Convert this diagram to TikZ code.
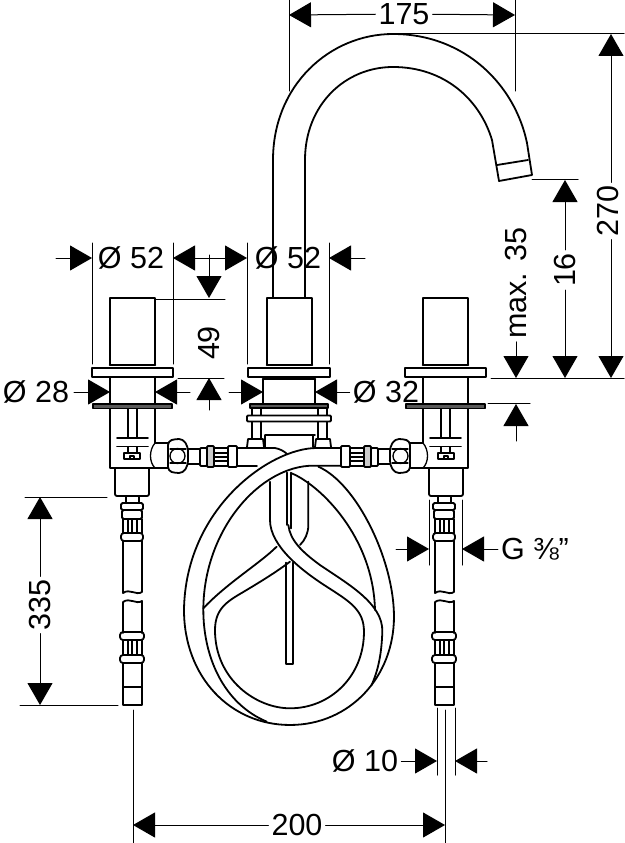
\documentclass[tikz,border=0pt]{standalone}
\usepackage{fontspec}
\setmainfont{Liberation Sans}
\usetikzlibrary{arrows.meta}
\tikzset{
 part/.style={line width=1.8pt},
 thinpart/.style={line width=1.3pt},
 dimline/.style={line width=1pt},
 dimtip/.style={dimline,-{Triangle[length=22pt,width=25pt]}},
 dimboth/.style={dimline,{Triangle[length=22pt,width=25pt]}-{Triangle[length=22pt,width=25pt]}},
 dimtext/.style={font=\fontsize{30.5}{32}\selectfont,inner sep=3pt},
}
\begin{document}
\begin{tikzpicture}[x=1pt,y=-1pt,line join=round,line cap=round]
 \useasboundingbox (0,0) rectangle (624,843);
 %spout
 \draw[part] (273,298) -- (273,160) .. controls (273,85) and (330,34) .. (393,34) .. controls (465,34) and (515,85) .. (527,143) -- (532,175) -- (499,181) -- (492,140) .. controls (480,100) and (445,67) .. (393,67) .. controls (345,67) and (305,105) .. (305,160) -- (305,298);
 \draw[part] (497,165) -- (528,160);
 %two valves, left one and its mirror image
 \foreach \sh/\mir in {0/1,578/-1}{
 \begin{scope}[xshift=\sh pt,xscale=\mir]
 \draw[part] (110,365) -- (110,298) -- (155,298) -- (155,365);
 \draw[line width=2.6pt] (110,365) -- (155,365);
 \draw[part] (92,368) rectangle (173,377);
 \draw[part] (110,377) -- (110,468) -- (155,468);
 \draw[part] (155,377) -- (155,443);
 \draw[part,fill=black!65] (93,404) rectangle (172,408.5);
 \draw[thinpart] (128,409) -- (128,438) (137,409) -- (137,438);
 \draw[part] (117,438) -- (148,438) (117,446.5) -- (148,446.5);
 \draw[thinpart] (128,447) -- (128,453) (137,447) -- (137,453);
 \draw[thinpart] (124,453) rectangle (140,459);
 \draw[thinpart] (130,459) -- (130,456) -- (134,456) -- (134,459);
 \draw[part,rounded corners=2pt] (115,469) -- (115,496) -- (149,496) -- (149,469);
 %nut on the valve
 \draw[thinpart] (155,443) .. controls (149,450) and (149,462) .. (155,468);
 \draw[part] (155,443) -- (168,443) (155,468) -- (168,468);
 \draw[part,rounded corners=4pt] (168,441) -- (175,439) -- (183,439) -- (188,447) -- (188,465) -- (183,473) -- (175,473) -- (168,471) -- cycle;
 \draw[thinpart] (177.5,456) circle (7.5);
 \draw[thinpart] (170,449) -- (186,449) (170,463) -- (186,463);
 %tube connection
 \draw[part] (188,449) -- (200,449) (188,464) -- (200,464);
 \draw[part,rounded corners=1pt] (200,448) rectangle (207,466);
 \draw[part,rounded corners=1pt,fill=black!20] (207,446) rectangle (214,467);
 \draw[part] (214,448) rectangle (228,466);
 \draw[thinpart] (214,453) -- (228,453) (214,457) -- (228,457) (214,461) -- (228,461);
 \draw[part,rounded corners=1pt] (228,446) rectangle (237,467);
 \end{scope}
 }
 %left tube ends behind the loop
 \draw[part] (237,448) -- (275,448) .. controls (280,449) and (284,451) .. (287,454);
 \draw[part] (237,466) -- (257,466);
 %middle body
 \draw[part] (267,365) -- (267,298) -- (312,298) -- (312,365);
 \draw[line width=2.6pt] (267,365) -- (312,365);
 \draw[part] (248,368) rectangle (330,377);
 \draw[line width=2.6pt] (263,379) -- (315,379);
 \draw[part] (263,379) -- (263,403) (315,379) -- (315,403);
 \draw[part,fill=black!65] (250,404) rectangle (328,408);
 \draw[part,rounded corners=1pt] (247,415.5) rectangle (331,421.5);
 \draw[thinpart] (252,408) -- (252,415) (261,408) -- (261,415) (318,408) -- (318,415) (327,408) -- (327,415);
 \draw[part] (252,422) -- (252,438) (261,422) -- (261,438) (318,422) -- (318,438) (327,422) -- (327,438);
 \draw[part] (265,435) -- (315,435) (265,435) -- (265,447) (313,435) -- (313,447);
 \draw[part] (247,447) -- (248,439) -- (263,439) -- (264,447) (315,447) -- (316,439) -- (330,439) -- (331,447);
 %hoses down to the end pieces
 \foreach \sh in {0,312}{
 \begin{scope}[xshift=\sh pt]
 \draw[part] (126,496) -- (126,503) (139,496) -- (139,503);
 \draw[part,rounded corners=1.5pt] (121,503) rectangle (143,510);
 \draw[part,rounded corners=1.5pt] (122,510) rectangle (142,519);
 \draw[part] (123,519) -- (123,533) (142,519) -- (142,533);
 \draw[thinpart] (128,519) -- (128,533) (132,519) -- (132,533) (137,519) -- (137,533);
 \draw[part,rounded corners=3pt] (121,533) rectangle (143,541);
 \draw[part] (123,541) -- (123,593) .. controls (130,588) and (136,596) .. (142,592) -- (142,541);
 \draw[part] (123,633) -- (123,602) .. controls (130,597) and (136,605) .. (142,601) -- (142,633);
 \draw[part,rounded corners=3pt] (120,632) rectangle (144,640);
 \draw[part] (123,640) -- (123,655) (142,640) -- (142,655);
 \draw[thinpart] (128,640) -- (128,655) (132,640) -- (132,655) (137,640) -- (137,655);
 \draw[part,rounded corners=3pt] (120,655) rectangle (144,663);
 \draw[part] (123,663) -- (123,687) (142,663) -- (142,687);
 \draw[part] (123,687) rectangle (142,705);
 \end{scope}
 }
 %hose loop and middle pipe
 \begin{scope}[shift={(170,450)},x=0.3333pt,y=-0.3333pt]
 \draw[part] (513,-6) -- (440,-6) .. controls (300,-6) and (46,175) .. (42,480) .. controls (42,680) and (180,825) .. (360,825) .. controls (540,825) and (672,680) .. (672,500) .. controls (672,330) and (560,100) .. (445,50);
 \draw[part] (513,47) -- (430,47) .. controls (270,47) and (100,240) .. (100,480) .. controls (100,620) and (160,760) .. (290,815);
 \draw[part] (300,95) -- (300,210) .. controls (300,290) and (400,365) .. (470,410) .. controls (540,455) and (582,480) .. (582,545) .. controls (582,680) and (480,775) .. (360,775) .. controls (260,775) and (135,690) .. (135,540) .. controls (135,470) and (180,450) .. (230,420) .. controls (280,390) and (320,365) .. (360,335);
 \draw[part] (355,225) .. controls (360,270) and (395,305) .. (450,345) .. controls (530,400) and (640,460) .. (637,545) .. controls (635,610) and (625,660) .. (605,705);
 \draw[part] (365,70) .. controls (450,105) and (610,260) .. (615,480);
 \draw[part] (415,95) -- (415,225) .. controls (415,250) and (405,270) .. (390,285);
 \draw[part] (100,475) .. controls (170,400) and (270,340) .. (320,290);
 \draw[part] (350,68) -- (350,225) (364,68) -- (364,235);
 \draw[part] (347,338) -- (347,643) -- (368,643) -- (368,338);
 \end{scope}
 %extension lines
 \draw[dimline] (289,0) -- (289,91) (515,0) -- (515,91);
 \draw[dimline] (393,34) -- (624,34);
 \draw[dimline] (532,179) -- (578,179);
 \draw[dimline] (491,378) -- (624,378) (488,403) -- (530,403);
 \draw[dimline] (92,243) -- (92,364) (173,243) -- (173,364) (247,243) -- (247,364) (329,243) -- (329,364);
 \draw[dimline] (155,299) -- (225,299) (178,378) -- (224,378);
 \draw[dimline] (25,497) -- (107,497) (20,705) -- (118,705);
 \draw[dimline] (133,710) -- (133,843) (445,710) -- (445,843);
 \draw[dimline] (429,500) -- (429,565) (462,500) -- (462,565);
 \draw[dimline] (437,708) -- (437,775) (455,708) -- (455,775);
 %dimension labels
 \node[dimtext] (w175) at (404,14) {175};
 \node[dimtext,rotate=90] (h270) at (608,211) {270};
 \node[dimtext,rotate=90] (h16) at (565,270) {16};
 \node[dimtext,rotate=90] (hmax) at (516,283) {max. 35};
 \node[dimtext] (d52l) at (131,258) {Ø 52};
 \node[dimtext] (d52m) at (288,258) {Ø 52};
 \node[dimtext,rotate=90] (h49) at (209,343) {49};
 \node[dimtext] (d28) at (36,392) {Ø 28};
 \node[dimtext] (d32) at (386,392) {Ø 32};
 \node[dimtext] (g38) at (535,549) {G ⅜"};
 \node[dimtext,rotate=90] (h335) at (40,605) {335};
 \node[dimtext] (d10) at (365,761) {Ø 10};
 \node[dimtext] (w200) at (297,825) {200};
 %dimension arrows
 \coordinate (a175) at (289,15);
 \coordinate (b175) at (515,15);
 \draw[dimtip] (w175) -- (a175);
 \draw[dimtip] (w175) -- (b175);
 \coordinate (a270) at (611,34);
 \coordinate (b270) at (611,378);
 \draw[dimtip] (h270.east -| a270) -- (a270);
 \draw[dimtip] (h270.west -| b270) -- (b270);
 \coordinate (a16) at (565,180);
 \coordinate (b16) at (565,378);
 \draw[dimtip] (h16) -- (a16);
 \draw[dimtip] (h16) -- (b16);
 \coordinate (bmax) at (516,378);
 \draw[dimtip] (hmax) -- (bmax);
 \draw[dimtip] (516,441) -- (516,404);
 \draw[dimtip] (56,258) -- (92,258);
 \draw[dimboth] (173,258) -- (247,258);
 \draw[dimtip] (365,258) -- (329,258);
 \draw[dimtip] (209,255) -- (209,298);
 \draw[dimtip] (209,410) -- (209,378);
 \draw[dimtip] (74,392) -- (110,392);
 \draw[dimtip] (190,392) -- (155,392);
 \draw[dimtip] (229,392) -- (263,392);
 \coordinate (d32tip) at (315,392);
 \draw[dimtip] (d32) -- (d32tip);
 \coordinate (a335) at (40,497);
 \coordinate (b335) at (40,705);
 \draw[dimtip] (h335) -- (a335);
 \draw[dimtip] (h335) -- (b335);
 \draw[dimtip] (396,549) -- (429,549);
 \coordinate (g38tip) at (462,549);
 \draw[dimtip] (g38) -- (g38tip);
 \coordinate (d10tip) at (437,761);
 \draw[dimtip] (d10) -- (d10tip);
 \draw[dimtip] (487,761) -- (455,761);
 \coordinate (a200) at (133,825);
 \coordinate (b200) at (445,825);
 \draw[dimtip] (w200) -- (a200);
 \draw[dimtip] (w200) -- (b200);
\end{tikzpicture}
\end{document}
